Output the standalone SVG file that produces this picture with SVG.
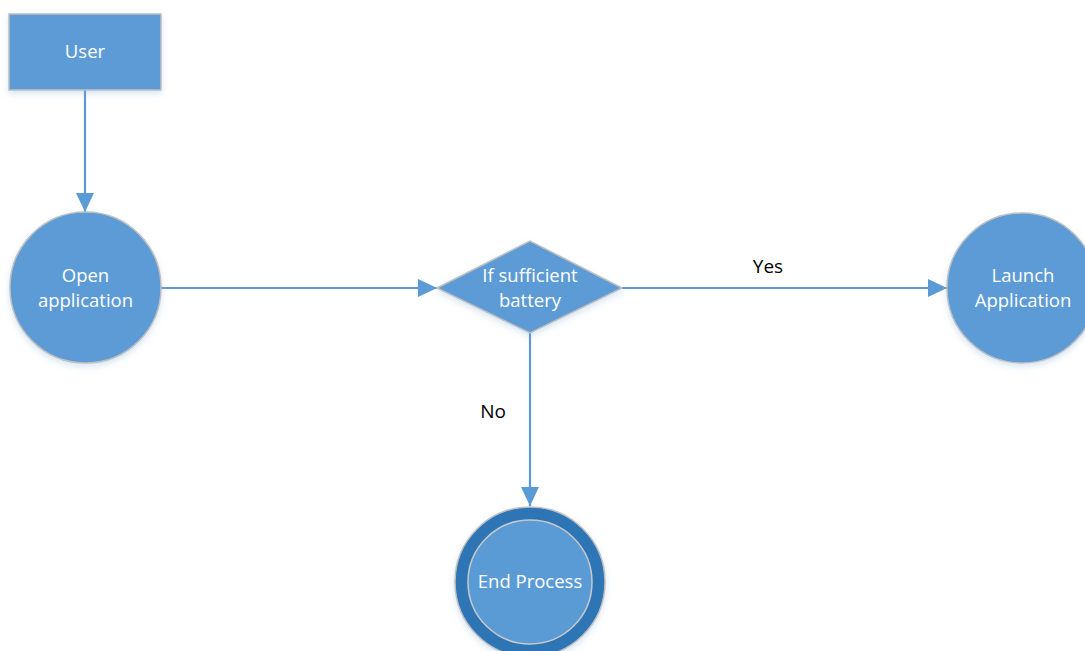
<svg xmlns="http://www.w3.org/2000/svg" width="1085" height="651" viewBox="0 0 1085 651">
  <defs>
    <marker id="arrow" markerWidth="19" markerHeight="18" refX="19" refY="9" orient="auto" markerUnits="userSpaceOnUse">
      <path d="M0,0 L19,9 L0,18 Z" fill="#5B9BD5"/>
    </marker>
    <filter id="shadow" x="-20%" y="-20%" width="140%" height="150%">
      <feDropShadow dx="0" dy="3" stdDeviation="3" flood-color="#5B9BD5" flood-opacity="0.25"/>
    </filter>
    <style>
      .shape { fill: #5B9BD5; stroke: #BFBFBF; stroke-width: 1.5; filter: url(#shadow); }
      .ring { fill: #2E75B6; stroke: #BFBFBF; stroke-width: 1.5; filter: url(#shadow); }
      .inner { fill: #5B9BD5; stroke: #C8C8C8; stroke-width: 1.5; }
      .label { font-family: "Open Sans", "Liberation Sans", sans-serif; font-size: 18.5px; fill: #FFFFFF; text-anchor: middle; }
      .edge { stroke: #5B9BD5; stroke-width: 2.2; fill: none; marker-end: url(#arrow); }
      .edge-label { font-family: "Open Sans", "Liberation Sans", sans-serif; font-size: 19px; fill: #000000; text-anchor: middle; }
    </style>
  </defs>

  <!-- connectors -->
  <g id="connectors">
    <line class="edge" x1="85" y1="90" x2="85" y2="212"/>
    <line class="edge" x1="161" y1="288" x2="437" y2="288"/>
    <line class="edge" x1="622" y1="288" x2="947" y2="288"/>
    <line class="edge" x1="530" y1="333" x2="530" y2="506"/>
    <text class="edge-label" x="768" y="273">Yes</text>
    <text class="edge-label" x="493" y="418">No</text>
  </g>

  <g id="user">
    <rect class="shape" x="9" y="14" width="152" height="76"/>
    <text class="label" x="85" y="58">User</text>
  </g>

  <g id="open-application">
    <circle class="shape" cx="85.5" cy="287.5" r="75.5"/>
    <text class="label" x="85.5" y="282">Open</text>
    <text class="label" x="85.5" y="307">application</text>
  </g>

  <g id="battery-check">
    <polygon class="shape" points="437,288 530,241 622,288 530,333"/>
    <text class="label" x="530" y="282">If sufficient</text>
    <text class="label" x="530" y="307">battery</text>
  </g>

  <g id="launch-application">
    <circle class="shape" cx="1022" cy="288" r="75"/>
    <text class="label" x="1023" y="282">Launch</text>
    <text class="label" x="1023" y="307">Application</text>
  </g>

  <g id="end-process">
    <circle class="ring" cx="530" cy="582" r="75"/>
    <circle class="inner" cx="530" cy="582" r="62"/>
    <text class="label" x="530" y="588">End Process</text>
  </g>
</svg>
